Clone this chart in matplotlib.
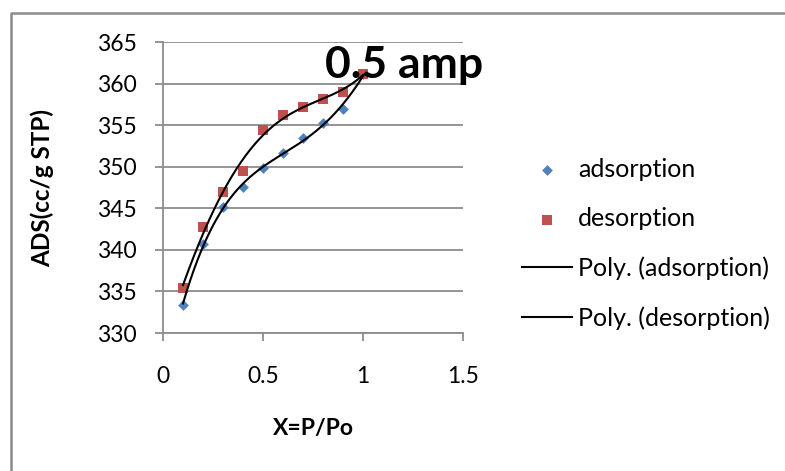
import numpy as np
import matplotlib
matplotlib.use("Agg")
import matplotlib.pyplot as plt
from matplotlib.lines import Line2D

plt.rcParams['font.family'] = ['Lato', 'DejaVu Sans']

# donnees
x_ads = [0.1, 0.2, 0.3, 0.4, 0.5, 0.6, 0.7, 0.8, 0.9, 1.0]
y_ads = [333.4, 340.7, 345.1, 347.6, 349.8, 351.7, 353.4, 355.2, 357.0, 361.1]
x_des = [0.1, 0.2, 0.3, 0.4, 0.5, 0.6, 0.7, 0.8, 0.9, 1.0]
y_des = [335.4, 342.8, 347.0, 349.5, 354.4, 356.2, 357.2, 358.1, 359.0, 361.2]
y_ticks = [330, 335, 340, 345, 350, 355, 360, 365]
x_ticks = [0, 0.5, 1, 1.5]

W, H = 785, 471
fig = plt.figure(figsize=(W / 100, H / 100), dpi=100)

def fx(px):
    return px / W

def fy(py):
    return 1 - py / H

# cadre exterieur (gauche + haut)
fig.lines.append(Line2D([fx(10.7), fx(10.7), 1.05], [-0.05, fy(13), fy(13)],
                        transform=fig.transFigure, color='#8c8c8c', lw=1.8))

ax = fig.add_axes([fx(163), fy(333), fx(463) - fx(163), fy(42) - fy(333)])

ax.scatter(x_ads, y_ads, marker='D', s=30, color='#4F81BD', zorder=3,
           label='adsorption', linewidths=0)
ax.scatter(x_des, y_des, marker='s', s=55, color='#C0504D', zorder=3,
           label='desorption', linewidths=0)

# courbes de tendance polynomiales
xx = np.linspace(min(x_ads), max(x_ads), 200)
p_ads = np.polyfit(x_ads, y_ads, 4)
p_des = np.polyfit(x_des, y_des, 4)
ax.plot(xx, np.polyval(p_ads, xx), color='black', lw=1.5, zorder=4,
        label='Poly. (adsorption)')
ax.plot(xx, np.polyval(p_des, xx), color='black', lw=1.5, zorder=4,
        label='Poly. (desorption)')

ax.set_xlim(0, 1.5)
ax.set_ylim(330, 365)
ax.set_xticks(x_ticks)
ax.set_xticklabels(['0', '0.5', '1', '1.5'])
ax.set_yticks(y_ticks)

ax.grid(axis='y', color='#8c8c8c', lw=1.3)
ax.set_axisbelow(True)
for s in ['top', 'right']:
    ax.spines[s].set_visible(False)
for s in ['left', 'bottom']:
    ax.spines[s].set_color('#8c8c8c')
    ax.spines[s].set_linewidth(1.3)
ax.tick_params(axis='y', length=6, width=1.3, color='#8c8c8c', pad=13,
               labelsize=16.5)
ax.tick_params(axis='x', length=6, width=1.3, color='#8c8c8c', pad=18,
               labelsize=16.5)

fig.text(fx(313), fy(428), 'X=P/Po', ha='center', va='center',
         fontsize=16.5, fontweight='bold')
fig.text(fx(42), fy(188), 'ADS(cc/g STP)', ha='center', va='center',
         rotation=90, fontsize=17.5, fontweight='bold')
fig.text(fx(325), fy(78), '0.5 amp', ha='left', va='baseline',
         fontsize=32, fontweight='bold', zorder=5)

fig.legend(loc='center left', bbox_to_anchor=(fx(522), fy(244)),
           bbox_transform=fig.transFigure, frameon=False, fontsize=18,
           borderpad=0, borderaxespad=0, handlelength=2.0,
           handletextpad=0.25, labelspacing=1.05)

fig.savefig('out.png', dpi=100)
